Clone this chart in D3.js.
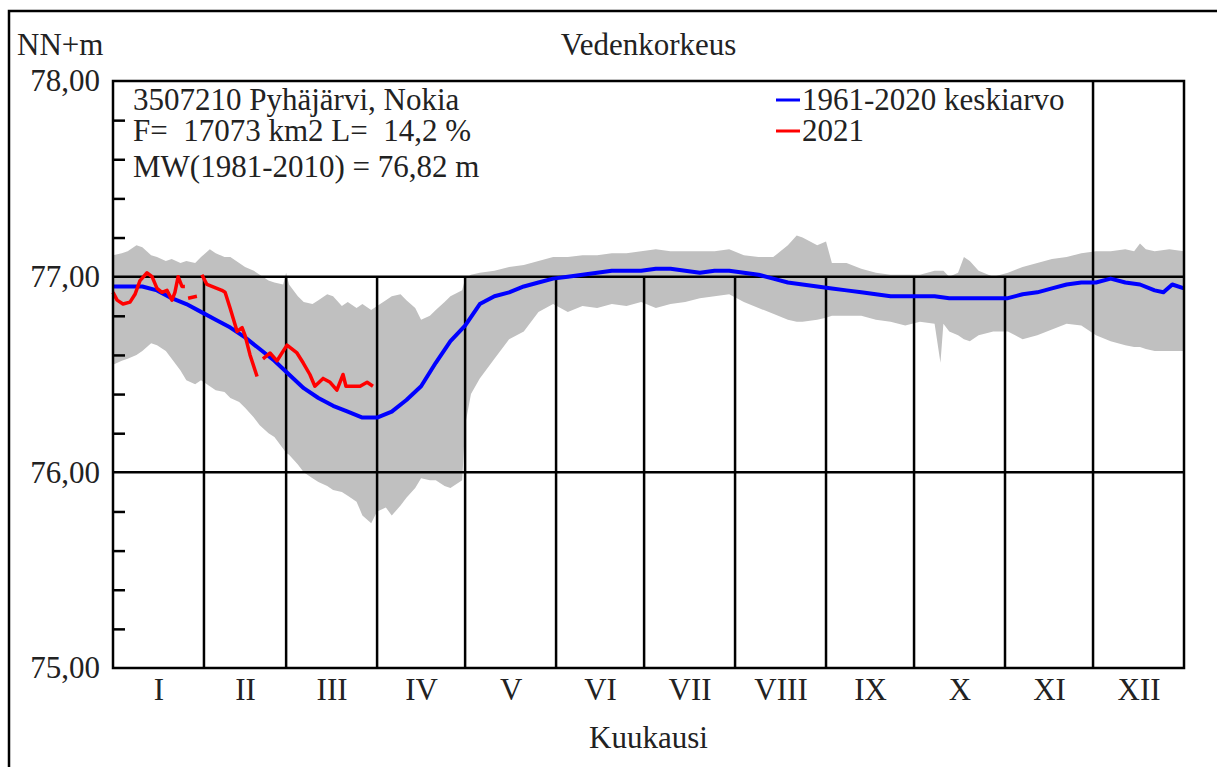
<!DOCTYPE html>
<html>
<head>
<meta charset="utf-8">
<script src="https://cdn.jsdelivr.net/npm/d3@7/dist/d3.min.js"></script>
<style>
  body { margin: 0; background: #fff; }
  text { font-family: "Liberation Serif", "Times New Roman", serif; fill: #222; }
</style>
</head>
<body>
<div id="chart"></div>
<script>
// month names and lengths (day of year scale)
var monthLabels = ["I", "II", "III", "IV", "V", "VI", "VII", "VIII", "IX", "X", "XI", "XII"];
var monthDays = [31, 28, 31, 30, 31, 30, 31, 31, 30, 31, 30, 31];

// min/max envelope (grey band), day of year
var bandDays = [0, 3, 5, 8, 10, 13, 15, 18, 20, 23, 25, 28, 30, 33, 35, 38, 40, 43, 45, 48, 50, 53, 55, 58, 59, 60, 63, 65, 68, 70, 73, 75, 78, 80, 83, 85, 88, 90, 93, 95,
    98, 100, 103, 105, 108, 110, 113, 115, 119, 120, 122, 125, 130, 135, 140, 145, 150, 155, 160, 165, 170, 175, 180, 185, 190, 195,
    200, 205, 210, 215, 220, 225, 230, 233, 235, 240, 243, 245, 250, 255, 260, 265, 270, 275, 280, 282, 283, 285,
    288, 290, 292, 295, 300, 305, 310, 315, 320, 325, 330, 335, 340, 345, 348, 350, 352, 355, 360, 365];
var bandHigh = [77.11, 77.12, 77.13, 77.16, 77.15, 77.11, 77.10, 77.08, 77.09, 77.07, 77.08, 77.07, 77.10, 77.14, 77.12, 77.10, 77.10, 77.07, 77.05, 77.03, 77.01, 76.98, 76.97, 76.96, 77.02, 76.96, 76.90, 76.87, 76.86, 76.88, 76.91, 76.90, 76.85, 76.87, 76.84, 76.86, 76.83, 76.85, 76.88, 76.90,
    76.91, 76.88, 76.84, 76.78, 76.80, 76.83, 76.87, 76.90, 76.93, 76.99, 77.01, 77.02, 77.03, 77.05, 77.06, 77.08, 77.10, 77.10, 77.11, 77.11, 77.12, 77.12, 77.13, 77.14, 77.13, 77.13,
    77.13, 77.13, 77.14, 77.11, 77.10, 77.10, 77.16, 77.21, 77.20, 77.16, 77.18, 77.07, 77.07, 77.04, 77.02, 77.01, 77.01, 77.01, 77.03, 77.03, 77.03, 77.00,
    77.02, 77.10, 77.08, 77.03, 77.00, 77.02, 77.05, 77.07, 77.09, 77.10, 77.12, 77.13, 77.13, 77.14, 77.13, 77.17, 77.14, 77.13, 77.14, 77.13];
var bandLow = [76.55, 76.57, 76.58, 76.60, 76.62, 76.66, 76.65, 76.62, 76.58, 76.52, 76.47, 76.45, 76.47, 76.44, 76.42, 76.41, 76.38, 76.36, 76.33, 76.28, 76.24, 76.20, 76.18, 76.12, 76.10, 76.09, 76.04, 76.00, 75.97, 75.95, 75.93, 75.91, 75.90, 75.88, 75.85, 75.78, 75.74, 75.80, 75.82, 75.78,
    75.83, 75.87, 75.92, 75.97, 75.96, 75.96, 75.93, 75.92, 75.96, 76.24, 76.40, 76.48, 76.58, 76.68, 76.72, 76.82, 76.86, 76.82, 76.85, 76.84, 76.86, 76.85, 76.87, 76.84, 76.86, 76.87,
    76.89, 76.90, 76.91, 76.87, 76.84, 76.81, 76.78, 76.77, 76.77, 76.78, 76.79, 76.80, 76.80, 76.80, 76.78, 76.77, 76.75, 76.77, 76.76, 76.56, 76.76, 76.72,
    76.70, 76.68, 76.67, 76.70, 76.72, 76.72, 76.68, 76.70, 76.73, 76.76, 76.75, 76.70, 76.67, 76.65, 76.64, 76.64, 76.63, 76.62, 76.62, 76.62];

// 1961-2020 mean
var meanDays = [0, 5, 10, 15, 20, 25, 30, 35, 40, 45, 50, 55, 60, 65, 70, 75, 80, 85, 90, 95,
    100, 105, 110, 115, 120, 125, 130, 135, 140, 145, 150, 155, 160, 165, 170, 175, 180, 185, 190, 195,
    200, 205, 210, 215, 220, 225, 230, 235, 240, 245, 250, 255, 260, 265, 270, 275, 280, 285, 290, 295,
    300, 305, 310, 315, 320, 325, 330, 335, 340, 345, 350, 355, 358, 361, 365];
var meanLevel = [76.95, 76.95, 76.95, 76.93, 76.89, 76.86, 76.82, 76.78, 76.74, 76.69, 76.63, 76.57, 76.50, 76.43, 76.38, 76.34, 76.31, 76.28, 76.28, 76.31,
    76.37, 76.44, 76.56, 76.67, 76.75, 76.86, 76.90, 76.92, 76.95, 76.97, 76.99, 77.00, 77.01, 77.02, 77.03, 77.03, 77.03, 77.04, 77.04, 77.03,
    77.02, 77.03, 77.03, 77.02, 77.01, 76.99, 76.97, 76.96, 76.95, 76.94, 76.93, 76.92, 76.91, 76.90, 76.90, 76.90, 76.90, 76.89, 76.89, 76.89,
    76.89, 76.89, 76.91, 76.92, 76.94, 76.96, 76.97, 76.97, 76.99, 76.97, 76.96, 76.93, 76.92, 76.96, 76.94];

// 2021 observations (null = gap)
var obsDays = [0, 1.4, 3.4, 5.8, 7.5, 9.2, 11.6, 13.3, 15, 16.7, 18.4, 20.1, 21.1, 22.2, 23.5, 24.5, null,
    25.6, 28.6, null,
    30.3, 32, 33.7, 35.4, 37.1, 38.2, 39.9, 42.3, 44, 45, 46.7, 49.1, null,
    51.1, 53.5, 55.9, 59.3, 62.7, 64.8, 67.1, 68.8, 71.6, 74, 76.3, 78.4, 79.4, 80.8, 84.2, 86.6, 88.6];
var obsLevel = [76.92, 76.88, 76.86, 76.87, 76.91, 76.98, 77.02, 77.00, 76.94, 76.92, 76.93, 76.88, 76.92, 77.00, 76.95, 76.95, null,
    76.89, 76.90, null,
    77.01, 76.96, 76.95, 76.94, 76.93, 76.92, 76.84, 76.72, 76.74, 76.70, 76.60, 76.49, null,
    76.58, 76.61, 76.57, 76.65, 76.61, 76.56, 76.50, 76.44, 76.48, 76.46, 76.42, 76.50, 76.44, 76.44, 76.44, 76.46, 76.44];

var infoLines = ["3507210 Pyhäjärvi, Nokia", "F=  17073 km2 L=  14,2 %", "MW(1981-2010) = 76,82 m"];

// set up chart
var svgWidth = 1217;
var svgHeight = 767;
var margin = { top: 81, right: 33, bottom: 99, left: 113 };
var width = svgWidth - margin.left - margin.right;
var height = svgHeight - margin.top - margin.bottom;
var fontSize = 31;

var svg = d3.select("#chart").append("svg")
    .attr("width", svgWidth)
    .attr("height", svgHeight);

// outer frame
svg.append("rect")
    .attr("x", 9).attr("y", 11)
    .attr("width", svgWidth + 20).attr("height", svgHeight + 20)
    .attr("fill", "none").attr("stroke", "#000").attr("stroke-width", 2.5);

var chartGroup = svg.append("g")
    .attr("transform", `translate(${margin.left}, ${margin.top})`);

var xScale = d3.scaleLinear().domain([0, 365]).range([0, width]);
var yScale = d3.scaleLinear().domain([75, 78]).range([height, 0]);

var monthStart = [0];
monthDays.forEach((d, i) => monthStart.push(monthStart[i] + d));

// grey band
var band = bandDays.map((d, i) => ({ day: d, lo: bandLow[i], hi: bandHigh[i] }));
chartGroup.append("path")
    .datum(band)
    .attr("fill", "#c0c0c0")
    .attr("d", d3.area()
        .x(d => xScale(d.day))
        .y0(d => yScale(d.lo))
        .y1(d => yScale(d.hi)));

// horizontal grid at whole metres
chartGroup.selectAll(".hgrid")
    .data([76, 77])
    .enter().append("line")
    .attr("x1", 0).attr("x2", width)
    .attr("y1", d => yScale(d)).attr("y2", d => yScale(d))
    .attr("stroke", "#000").attr("stroke-width", 2.5);

// month boundaries; the last one runs full height
chartGroup.selectAll(".vgrid")
    .data(monthStart.slice(1, 12))
    .enter().append("line")
    .attr("x1", d => xScale(d)).attr("x2", d => xScale(d))
    .attr("y1", (d, i) => i === 10 ? 0 : yScale(77))
    .attr("y2", height)
    .attr("stroke", "#000").attr("stroke-width", 2.5);

// mean line
chartGroup.append("path")
    .datum(meanDays.map((d, i) => ({ day: d, v: meanLevel[i] })))
    .attr("fill", "none").attr("stroke", "#0000ff").attr("stroke-width", 4)
    .attr("stroke-linejoin", "round")
    .attr("d", d3.line().x(d => xScale(d.day)).y(d => yScale(d.v)));

// 2021 line
chartGroup.append("path")
    .datum(obsDays.map((d, i) => ({ day: d, v: obsLevel[i] })))
    .attr("fill", "none").attr("stroke", "#ff0000").attr("stroke-width", 3.5)
    .attr("stroke-linejoin", "round")
    .attr("d", d3.line().defined(d => d.v !== null)
        .x(d => xScale(d.day)).y(d => yScale(d.v)));

// y axis: minor ticks inside, labels outside
var minorTicks = d3.range(75.2, 78, 0.2).filter(v => Math.abs(v - Math.round(v)) > 0.01);
chartGroup.append("g")
    .call(d3.axisLeft(yScale).tickValues(minorTicks).tickSize(-12).tickFormat(""))
    .call(g => g.select(".domain").remove())
    .selectAll("line").attr("stroke", "#000").attr("stroke-width", 2.5);

chartGroup.append("g")
    .call(d3.axisLeft(yScale).tickValues([75, 76, 77, 78]).tickSize(0).tickPadding(13)
        .tickFormat(d => d3.format(".2f")(d).replace(".", ",")))
    .call(g => g.select(".domain").remove())
    .selectAll("text")
    .attr("font-size", fontSize).attr("font-family", null).attr("dy", "0.32em");

// x axis: roman month labels centred in each month
var monthMid = monthStart.slice(0, 12).map((d, i) => d + monthDays[i] / 2);
chartGroup.append("g")
    .attr("transform", `translate(0, ${height})`)
    .call(d3.axisBottom(xScale).tickValues(monthMid).tickSize(0).tickPadding(10)
        .tickFormat((d, i) => monthLabels[i]))
    .call(g => g.select(".domain").remove())
    .selectAll("text")
    .attr("font-size", fontSize).attr("font-family", null);

// plot frame
chartGroup.append("rect")
    .attr("width", width).attr("height", height)
    .attr("fill", "none").attr("stroke", "#000").attr("stroke-width", 2.5);

// info text
chartGroup.selectAll(".info")
    .data(infoLines)
    .enter().append("text")
    .attr("x", 20)
    .attr("y", (d, i) => [29, 60, 96][i])
    .attr("font-size", fontSize)
    .style("white-space", "pre")
    .text(d => d);

// legend
var legend = [{ label: "1961-2020 keskiarvo", color: "#0000ff" }, { label: "2021", color: "#ff0000" }];
var legendGroup = chartGroup.append("g").attr("transform", `translate(${663}, 0)`);
legend.forEach((d, i) => {
    var y = 19 + i * 31;
    legendGroup.append("line")
        .attr("x1", 0).attr("x2", 24).attr("y1", y).attr("y2", y)
        .attr("stroke", d.color).attr("stroke-width", 3);
    legendGroup.append("text")
        .attr("x", 26).attr("y", y + 10)
        .attr("font-size", fontSize)
        .text(d.label);
});

// titles
svg.append("text")
    .attr("x", 17).attr("y", 55)
    .attr("font-size", fontSize)
    .text("NN+m");

svg.append("text")
    .attr("x", margin.left + width / 2).attr("y", 55)
    .attr("text-anchor", "middle")
    .attr("font-size", fontSize)
    .text("Vedenkorkeus");

svg.append("text")
    .attr("x", margin.left + width / 2).attr("y", 748)
    .attr("text-anchor", "middle")
    .attr("font-size", fontSize)
    .text("Kuukausi");
</script>
</body>
</html>
